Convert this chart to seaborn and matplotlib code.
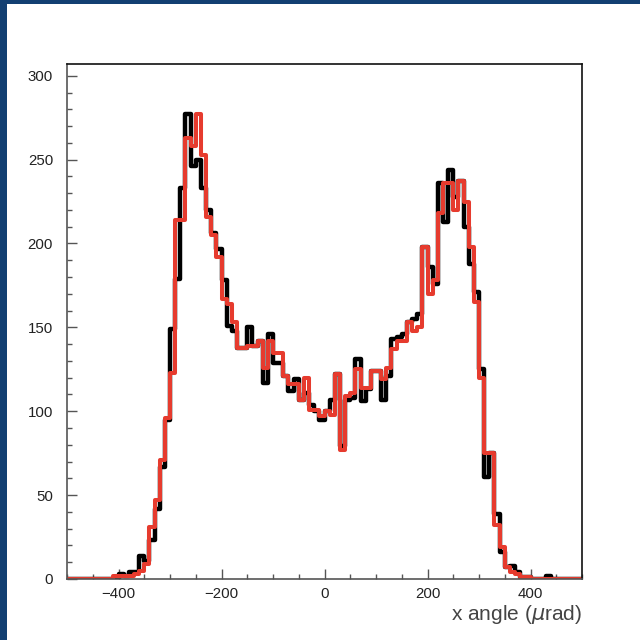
import numpy as np
import pandas as pd
import matplotlib
matplotlib.use("Agg")
import matplotlib.pyplot as plt
import seaborn as sns
from matplotlib.ticker import MultipleLocator
from matplotlib.patches import Rectangle

# histogram range: 100 bins of 10 urad
x_lo, x_hi, bin_w = -500, 500, 10

# black histogram (drawn underneath)
black_counts = [
    0, 0, 0, 0, 0, 0, 0, 0, 0, 0,
    3, 2, 4, 4, 14, 11, 23, 42, 67, 95,
    149, 179, 233, 277, 246, 250, 233, 220, 206, 197,
    178, 151, 148, 138, 138, 150, 139, 142, 117, 146,
    129, 129, 121, 112, 119, 107, 111, 104, 100, 95,
    100, 107, 122, 79, 107, 108, 131, 106, 113, 124,
    124, 107, 121, 143, 144, 146, 153, 155, 158, 198,
    186, 176, 236, 213, 244, 228, 237, 210, 188, 171,
    125, 61, 75, 39, 16, 7, 8, 4, 1, 1,
    0, 0, 0, 2, 0, 0, 0, 0, 0, 0,
]

# red histogram (drawn on top)
red_counts = [
    0, 0, 0, 0, 0, 0, 0, 0, 0, 2,
    2, 2, 2, 3, 5, 9, 31, 47, 71, 96,
    123, 214, 214, 263, 258, 277, 253, 216, 205, 192,
    167, 164, 153, 138, 138, 139, 139, 142, 126, 142,
    135, 135, 121, 116, 116, 107, 120, 101, 101, 97,
    100, 98, 122, 77, 109, 111, 125, 114, 114, 124,
    124, 119, 126, 137, 142, 142, 153, 148, 150, 198,
    170, 178, 218, 236, 236, 220, 237, 225, 198, 165,
    120, 75, 75, 32, 19, 7, 4, 3, 1, 1,
    0, 0, 0, 0, 0, 0, 0, 0, 0, 0,
]

centers = np.arange(x_lo + bin_w / 2, x_hi, bin_w)
df_black = pd.DataFrame({"angle": centers, "n": black_counts})
df_red = pd.DataFrame({"angle": centers, "n": red_counts})

sns.set_style("ticks")
plt.rcParams["font.family"] = ["Liberation Sans", "DejaVu Sans"]

fig = plt.figure(figsize=(6.4, 6.4), dpi=100)
fig.patch.set_facecolor("#123f72")
# white page, blue border left/top
fig.patches.append(Rectangle((7 / 640, 0), 1, 636 / 640, transform=fig.transFigure,
                             facecolor="white", edgecolor="none", zorder=-10))

ax = fig.add_axes([67 / 640, 61 / 640, 515 / 640, 515 / 640])
ax.set_facecolor("white")

sns.histplot(data=df_black, x="angle", weights="n", binwidth=bin_w, binrange=(x_lo, x_hi),
             element="step", fill=False, color="black", linewidth=3.2, ax=ax)
sns.histplot(data=df_red, x="angle", weights="n", binwidth=bin_w, binrange=(x_lo, x_hi),
             element="step", fill=False, color="#e63b2e", linewidth=2.9, ax=ax)

ax.set_xlim(x_lo, x_hi)
ax.set_ylim(0, 307)

ax.xaxis.set_major_locator(MultipleLocator(200))
ax.xaxis.set_minor_locator(MultipleLocator(50))
ax.yaxis.set_major_locator(MultipleLocator(50))
ax.yaxis.set_minor_locator(MultipleLocator(10))

ax.tick_params(which="both", direction="in", top=False, right=False,
               color="#555555", labelcolor="#222222", labelsize=10.8, width=1)
ax.tick_params(which="major", length=7.2)
ax.tick_params(which="minor", length=3.6)
ax.tick_params(axis="y", pad=10)
ax.tick_params(axis="x", pad=5.5)

for s in ax.spines.values():
    s.set_color("#111111")
    s.set_linewidth(1.2)
ax.spines["left"].set_color("#555555")
ax.spines["bottom"].set_color("#555555")

ax.set_ylabel("")
ax.set_xlabel(r"x angle ($\mu$rad)", loc="right", fontsize=15, color="#444444", labelpad=2)

fig.savefig("out.png", dpi=100, facecolor=fig.get_facecolor())
